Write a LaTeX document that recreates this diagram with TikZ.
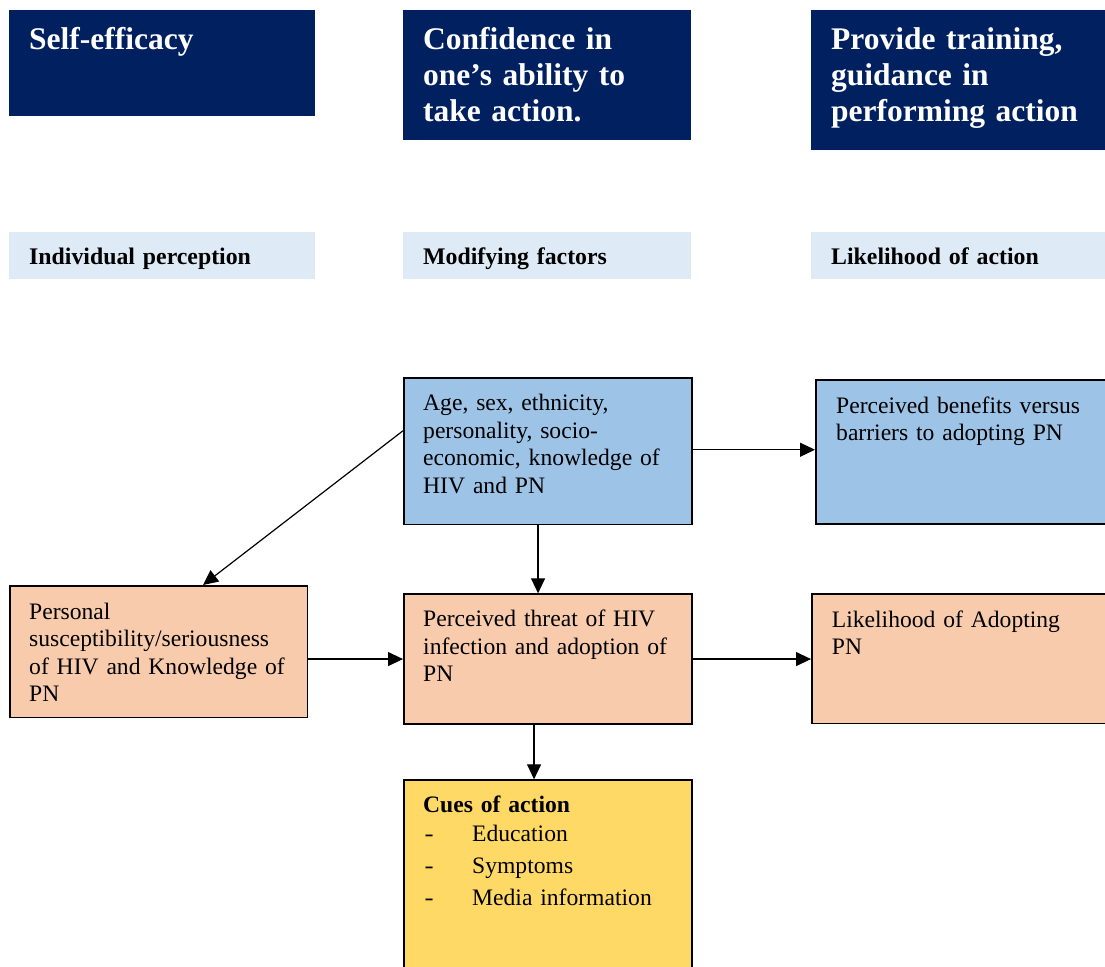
\documentclass[tikz,border=0pt]{standalone}
\usepackage{fontspec}
\setmainfont{Liberation Serif}
\usetikzlibrary{arrows.meta,calc}
\definecolor{navy}{HTML}{002060}
\definecolor{barblue}{HTML}{DEEBF7}
\definecolor{boxblue}{HTML}{9DC3E6}
\definecolor{peach}{HTML}{F8CBAD}
\definecolor{gold}{HTML}{FFD966}
\tikzset{
  navybox/.style={fill=navy, draw=none, inner sep=0pt, anchor=north west},
  barbox/.style={fill=barblue, draw=none, inner sep=0pt, anchor=north west},
  flowbox/.style={draw=black, line width=1.5pt, inner sep=0pt, anchor=north west},
  bigtxt/.style={inner sep=0pt, anchor=base west, align=left, text width=#1,
    text=white, font=\fontsize{31.5}{36.3}\selectfont\bfseries},
  bartxt/.style={inner sep=0pt, anchor=base west, align=left, text width=280pt,
    font=\fontsize{23.8}{27.5}\selectfont\bfseries},
  bodytxt/.style={inner sep=0pt, anchor=base west, align=left, text width=#1,
    font=\fontsize{23.6}{27.5}\selectfont},
  arr/.style={line width=1.2pt, -{Triangle[length=15pt,width=14pt]}}
}
\begin{document}
\begin{tikzpicture}[x=1pt,y=-1pt]
\useasboundingbox (0,0) rectangle (1105,966);
\clip (0,0) rectangle (1105,966);

% top navy boxes
\node[navybox, minimum width=306pt, minimum height=106pt] (se) at (9,10) {};
\node[navybox, minimum width=288pt, minimum height=130pt] (conf) at (403,10) {};
\node[navybox, minimum width=300pt, minimum height=140pt] (prov) at (811,10) {};
\node[bigtxt=280pt] (setxt) at (29,50) {Self-efficacy};
\node[bigtxt=265pt] (conftxt) at (423,49.3) {Confidence in\\one’s ability to\\take action.};
\node[bigtxt=270pt] (provtxt) at (831,49.3) {Provide training,\\guidance in\\performing action};

% light header bars
\node[barbox, minimum width=306pt, minimum height=47pt] (bar1) at (9,232) {};
\node[barbox, minimum width=288pt, minimum height=47pt] (bar2) at (403,232) {};
\node[barbox, minimum width=300pt, minimum height=47pt] (bar3) at (811,232) {};
\node[bartxt] (bar1txt) at (29,264.3) {Individual perception};
\node[bartxt] (bar2txt) at (423,264.3) {Modifying factors};
\node[bartxt] (bar3txt) at (831,264.3) {Likelihood of action};

% flow boxes
\node[flowbox, fill=boxblue, minimum width=288pt, minimum height=146.4pt] (age) at (403,377.3) {};
\node[flowbox, fill=boxblue, minimum width=300pt, minimum height=144pt] (ben) at (815,379.3) {};
\node[flowbox, fill=peach, minimum width=297.7pt, minimum height=131.7pt] (pers) at (9,585) {};
\node[flowbox, fill=peach, minimum width=288pt, minimum height=130pt] (threat) at (403,593.3) {};
\node[flowbox, fill=peach, minimum width=300pt, minimum height=129.4pt] (like) at (811,593.3) {};
\node[flowbox, fill=gold, minimum width=288pt, minimum height=220pt] (cues) at (403,779.3) {};

\node[bodytxt=262pt] (agetxt) at (423,410.7) {Age, sex, ethnicity,\\personality, socio-\\economic, knowledge of\\HIV and PN};
\node[bodytxt=262pt] (bentxt) at (836,413.3) {Perceived benefits versus\\barriers to adopting PN};
\node[bodytxt=275pt] (perstxt) at (29,619.3) {Personal\\susceptibility/seriousness\\of HIV and Knowledge of\\PN};
\node[bodytxt=262pt] (threattxt) at (423,626.7) {Perceived threat of HIV\\infection and adoption of\\PN};
\node[bodytxt=262pt] (liketxt) at (831.7,627.3) {Likelihood of Adopting\\PN};
\node[bodytxt=262pt] (cuestxt) at (423,812.3) {\textbf{Cues of action}\\[1.9pt]
  \makebox[49pt][l]{\hspace{1.5pt}\scalebox{1.15}[1]{-}}Education\\[4.1pt]
  \makebox[49pt][l]{\hspace{1.5pt}\scalebox{1.15}[1]{-}}Symptoms\\[4.2pt]
  \makebox[49pt][l]{\hspace{1.5pt}\scalebox{1.15}[1]{-}}Media information};

% connectors
\draw[arr] ([yshift=20.5pt]age.west) -- ($(pers.north west)+(194,0)$);
\draw[arr] ([yshift=1.5pt]age.east) -- ([yshift=1.5pt]age.east -| ben.west);
\draw[arr] ([xshift=-9.7pt]age.south) -- ([xshift=-9.7pt]age.south |- threat.north);
\draw[arr] (pers.east |- threat.west) -- (threat.west);
\draw[arr] (threat.east) -- (threat.east -| like.west);
\draw[arr] ([xshift=-13.7pt]threat.south) -- ([xshift=-13.7pt]threat.south |- cues.north);
\end{tikzpicture}
\end{document}
